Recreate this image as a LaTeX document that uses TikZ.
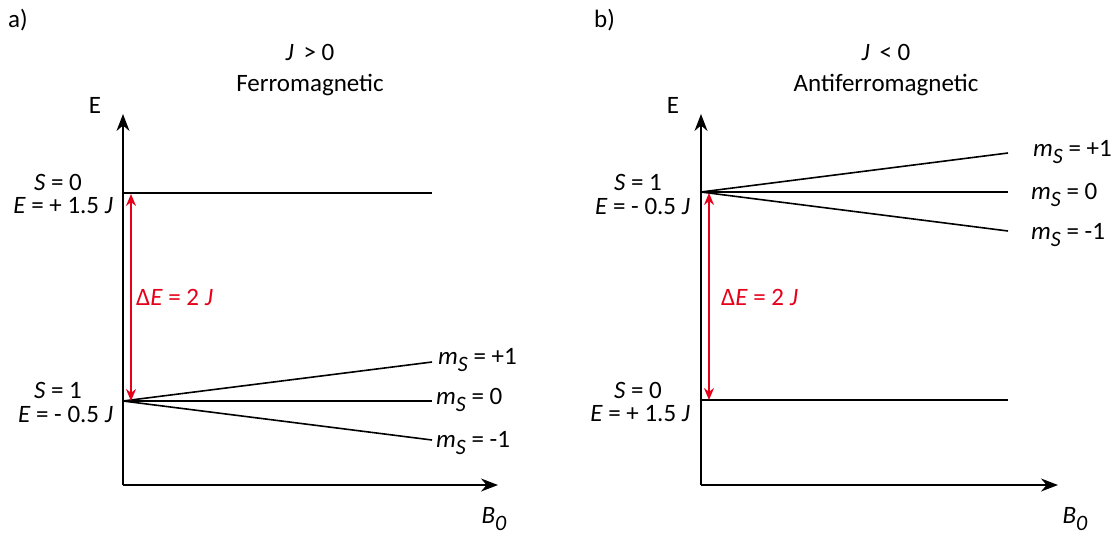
\documentclass[tikz,border=0pt]{standalone}
\usepackage{fontspec}
\setmainfont{Carlito}
\usetikzlibrary{arrows.meta}
\definecolor{dered}{RGB}{230,0,26}
\newcommand{\msub}[2]{\textit{#1}\raisebox{-0.6ex}{\fontsize{22}{26}\selectfont\textit{#2}}}
\begin{document}
\begin{tikzpicture}[x=1pt,y=-1pt,
  lbl/.style={font=\fontsize{25}{29}\selectfont, inner sep=0pt},
  axis/.style={line width=1.6pt, -{Stealth[length=17pt,width=13pt]}},
  level/.style={line width=1.6pt},
  gap/.style={dered, line width=1.4pt, {Stealth[length=12pt,width=10pt]}-{Stealth[length=12pt,width=10pt]}}]
\useasboundingbox (0,0) rectangle (1116,536);
% ---------- panel a ----------
\node[lbl, anchor=west] (la) at (8,20) {a)};
\node[lbl] (ja) at (310,52) {\textit{J}\, > 0};
\node[lbl] (fa) at (310,85) {Ferromagnetic};
\node[lbl] (ea) at (95,105) {E};
\coordinate (oa) at (123,485);
\coordinate (ta) at (123,114);
\coordinate (xa) at (498,485);
\draw[axis] (oa) -- (ta);
\draw[axis] (oa) -- (xa);
\node[lbl] (ba) at (494,519) {\msub{B}{0}};
\coordinate (a0l) at (123,193);
\coordinate (a0r) at (432,193);
\draw[level] (a0l) -- (a0r);
\coordinate (a1l) at (123,401);
\coordinate (a1p) at (432,362);
\coordinate (a1z) at (432,401);
\coordinate (a1m) at (432,440);
\draw[level] (a1l) -- (a1p);
\draw[level] (a1l) -- (a1z);
\draw[level] (a1l) -- (a1m);
\node[lbl, anchor=west] (mpa) at (438,360) {\msub{m}{S} = +1};
\node[lbl, anchor=west] (mza) at (436,400) {\msub{m}{S} = 0};
\node[lbl, anchor=west] (mma) at (436,443) {\msub{m}{S} = -1};
\node[lbl] (sa0) at (58,182) {\textit{S} = 0};
\node[lbl, anchor=east] (ea0) at (113,206) {\textit{E} = + 1.5 \textit{J}};
\node[lbl] (sa1) at (58,390) {\textit{S} = 1};
\node[lbl, anchor=east] (ea1) at (113,414) {\textit{E} = - 0.5 \textit{J}};
\coordinate (ga1) at (131,194);
\coordinate (ga2) at (131,401);
\draw[gap] (ga1) -- (ga2);
\node[lbl, anchor=west, text=dered] (dea) at (136,297) {Δ\textit{E} = 2 \textit{J}};
% ---------- panel b ----------
\node[lbl, anchor=west] (lb) at (594,20) {b)};
\node[lbl] (jb) at (886,52) {\textit{J}\, < 0};
\node[lbl] (fb) at (886,85) {Antiferromagnetic};
\node[lbl] (eb) at (673,105) {E};
\coordinate (ob) at (701,485);
\coordinate (tb) at (701,114);
\coordinate (xb) at (1058,485);
\draw[axis] (ob) -- (tb);
\draw[axis] (ob) -- (xb);
\node[lbl] (bb) at (1075,519) {\msub{B}{0}};
\coordinate (b1l) at (701,192);
\coordinate (b1p) at (1008,153);
\coordinate (b1z) at (1008,192);
\coordinate (b1m) at (1008,231);
\draw[level] (b1l) -- (b1p);
\draw[level] (b1l) -- (b1m);
\draw[level] (b1l) -- (b1z);
\node[lbl, anchor=west] (mpb) at (1033,152) {\msub{m}{S} = +1};
\node[lbl, anchor=west] (mzb) at (1031,195) {\msub{m}{S} = 0};
\node[lbl, anchor=west] (mmb) at (1031,235) {\msub{m}{S} = -1};
\coordinate (b0l) at (701,400);
\coordinate (b0r) at (1008,400);
\draw[level] (b0l) -- (b0r);
\node[lbl] (sb1) at (638,182) {\textit{S} = 1};
\node[lbl, anchor=east] (eb1) at (690,206) {\textit{E} = - 0.5 \textit{J}};
\node[lbl] (sb0) at (638,390) {\textit{S} = 0};
\node[lbl, anchor=east] (eb0) at (690,414) {\textit{E} = + 1.5 \textit{J}};
\coordinate (gb1) at (709,193);
\coordinate (gb2) at (709,400);
\draw[gap] (gb1) -- (gb2);
\node[lbl, anchor=west, text=dered] (deb) at (721,297) {Δ\textit{E} = 2 \textit{J}};
\end{tikzpicture}
\end{document}
